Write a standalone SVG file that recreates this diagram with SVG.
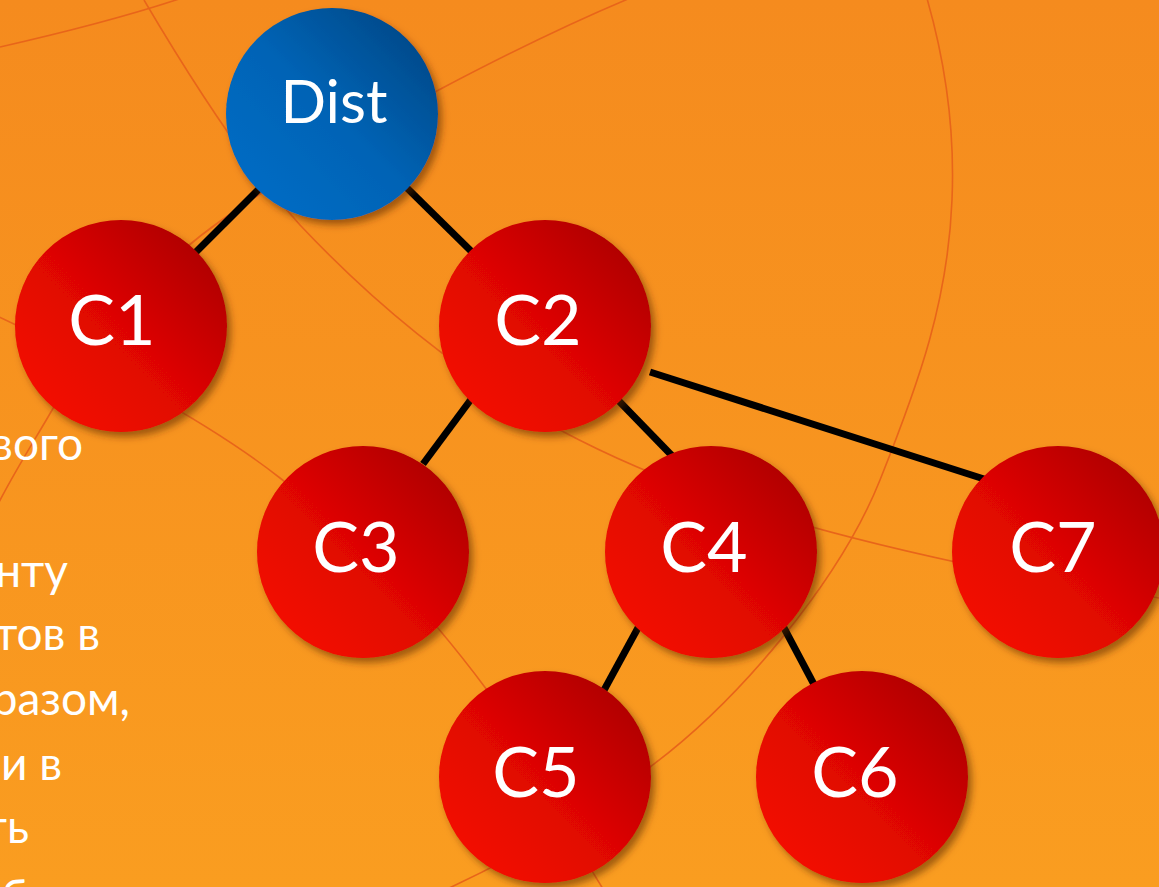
<svg xmlns="http://www.w3.org/2000/svg" width="1159" height="887" viewBox="0 0 1159 887">
  <defs>
    <linearGradient id="bg" x1="0" y1="0" x2="0" y2="1">
      <stop offset="0" stop-color="#F58B1E"/>
      <stop offset="1" stop-color="#FA9D20"/>
    </linearGradient>
    <linearGradient id="red" x1="0.15" y1="0.85" x2="0.85" y2="0.15">
      <stop offset="0" stop-color="#F20C06"/>
      <stop offset="0.5" stop-color="#DE0603"/>
      <stop offset="1" stop-color="#B30000"/>
    </linearGradient>
    <linearGradient id="blue" x1="0.15" y1="0.85" x2="0.85" y2="0.15">
      <stop offset="0" stop-color="#006BC3"/>
      <stop offset="0.5" stop-color="#0063B5"/>
      <stop offset="1" stop-color="#004C8E"/>
    </linearGradient>
    <filter id="shadow" x="-20%" y="-20%" width="150%" height="150%">
      <feDropShadow dx="4" dy="5" stdDeviation="3.5" flood-color="#5A2800" flood-opacity="0.55"/>
    </filter>
  </defs>
  <style>
    .arc { fill: none; stroke: #E8651A; stroke-width: 1.6; }
    .edge { stroke: #000; stroke-width: 7; stroke-linecap: butt; }
    .node { filter: url(#shadow); }
    .label { font-family: Lato, "Open Sans", "DejaVu Sans", sans-serif; fill: #fff; text-anchor: middle; font-size: 70px; }
    .body { font-family: Lato, "Open Sans", "DejaVu Sans", sans-serif; fill: #fff; text-anchor: end; font-size: 46px; }
  </style>

  <rect x="0" y="0" width="1159" height="887" fill="url(#bg)"/>

  <g id="background">
    <path class="arc" d="M0,47 Q110,22 182,-2"/>
    <path class="arc" d="M144,0 C200,95 250,170 300,225 C380,310 470,380 560,430 C650,478 760,520 960,563 L1170,600"/>
    <path class="arc" d="M640,-6 C540,35 350,130 226,217 C150,270 90,340 55,405 C35,440 15,470 -5,510"/>
    <path class="arc" d="M-5,315 C80,355 200,415 280,478 C360,540 420,600 487,690 C530,750 565,830 605,892"/>
    <path class="arc" d="M926,-5 C945,60 955,130 952,200 C948,300 920,380 880,480 C840,580 740,700 650,767 C590,815 520,855 445,890"/>
  </g>

  <g id="text">
    <text class="body" x="83" y="460">вого</text>
    <text class="body" x="68" y="587">нту</text>
    <text class="body" x="100" y="650">тов в</text>
    <text class="body" x="130" y="715">разом,</text>
    <text class="body" x="62" y="780">и в</text>
    <text class="body" x="29" y="843">ть</text>
    <text class="body" x="28" y="913">б</text>
  </g>

  <g id="connectors">
    <line class="edge" x1="262" y1="186" x2="194" y2="254"/>
    <line class="edge" x1="405" y1="186" x2="472" y2="252"/>
    <line class="edge" x1="472" y1="398" x2="423" y2="464"/>
    <line class="edge" x1="616" y1="398" x2="682" y2="466"/>
    <line class="edge" x1="650" y1="372" x2="984" y2="479"/>
    <line class="edge" x1="639" y1="626" x2="603" y2="692"/>
    <line class="edge" x1="783" y1="626" x2="818" y2="692"/>
  </g>

  <g id="dist" class="node">
    <circle cx="332" cy="114" r="106" fill="url(#blue)"/>
    <text class="label" x="334" y="123" style="font-size:60px">Dist</text>
  </g>
  <g id="c1" class="node">
    <circle cx="121" cy="326" r="106" fill="url(#red)"/>
    <text class="label" x="112" y="345">C1</text>
  </g>
  <g id="c2" class="node">
    <circle cx="545" cy="326" r="106" fill="url(#red)"/>
    <text class="label" x="538" y="345">C2</text>
  </g>
  <g id="c3" class="node">
    <circle cx="363" cy="552" r="106" fill="url(#red)"/>
    <text class="label" x="356" y="572">C3</text>
  </g>
  <g id="c4" class="node">
    <circle cx="711" cy="552" r="106" fill="url(#red)"/>
    <text class="label" x="704" y="572">C4</text>
  </g>
  <g id="c7" class="node">
    <circle cx="1058" cy="552" r="106" fill="url(#red)"/>
    <text class="label" x="1053" y="572">C7</text>
  </g>
  <g id="c5" class="node">
    <circle cx="545" cy="777" r="106" fill="url(#red)"/>
    <text class="label" x="536" y="797">C5</text>
  </g>
  <g id="c6" class="node">
    <circle cx="862" cy="777" r="106" fill="url(#red)"/>
    <text class="label" x="855" y="797">C6</text>
  </g>
</svg>
